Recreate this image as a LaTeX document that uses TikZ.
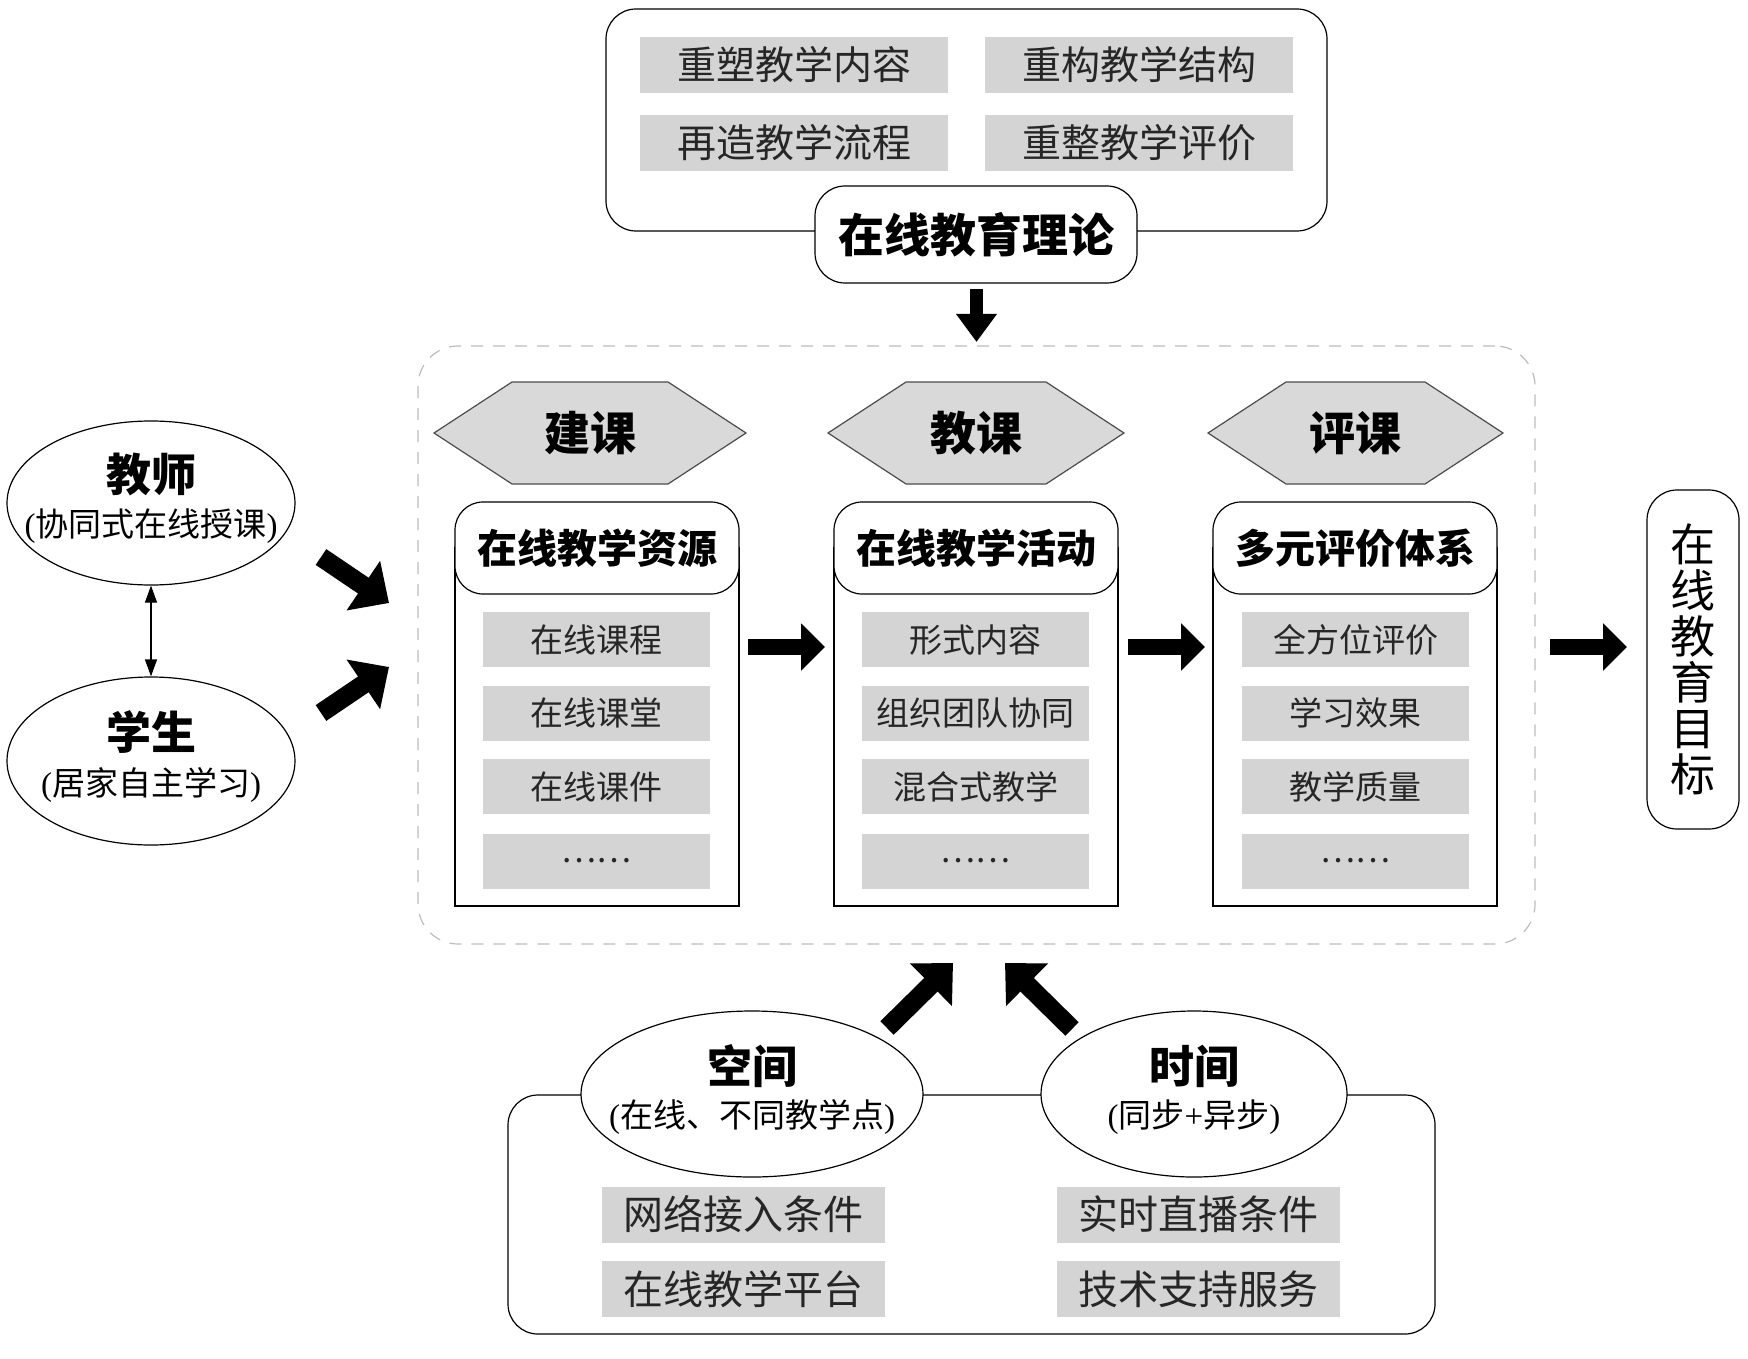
\documentclass[tikz,border=0pt]{standalone}
\usepackage{fontspec}
\setmainfont{Liberation Serif}
\newfontfamily\cjk{Noto Sans CJK SC}
\usetikzlibrary{arrows.meta,shapes.geometric}
\definecolor{boxgray}{HTML}{D4D4D4}
\definecolor{hexgray}{HTML}{D9D9D9}
\definecolor{dashgray}{HTML}{BDBDBD}
\begin{document}
\begin{tikzpicture}[x=0.5pt,y=-0.5pt,
  thin line/.style={line width=0.6pt, draw=black},
  graybox/.style={fill=boxgray, draw=none, inner sep=0pt, text=black!85},
  topgray/.style={graybox, minimum width=154pt, minimum height=28pt, font=\cjk\fontsize{19.5}{22}\selectfont},
  itemgray/.style={graybox, minimum width=113.5pt, minimum height=27.5pt, font=\cjk\fontsize{16.5}{19}\selectfont},
  botgray/.style={graybox, minimum width=141.5pt, minimum height=28pt, font=\cjk\fontsize{20}{23}\selectfont},
  hexa/.style={fill=hexgray, draw=black!70, line width=0.6pt},
  hextext/.style={font=\cjk\bfseries\fontsize{23}{26}\selectfont},
  header/.style={thin line, fill=white, rounded corners=14pt, minimum width=142pt, minimum height=46pt, inner sep=0pt, font=\cjk\bfseries\fontsize{20}{23}\selectfont},
  body/.style={thin line, fill=white, minimum width=142pt, minimum height=179pt, inner sep=0pt},
  oval/.style={thin line, ellipse, fill=white, inner sep=0pt},
  ovaltitle/.style={font=\cjk\bfseries\fontsize{22.5}{25}\selectfont},
  ovalsub/.style={font=\fontsize{16.5}{19}\selectfont},
  fatH/.style={line width=8pt, -{Triangle[length=12pt,width=23pt]}},
  fatV/.style={line width=6.5pt, -{Triangle[length=14pt,width=19.5pt]}},
  fatD/.style={line width=9.5pt, -{Triangle[length=15.5pt,width=29pt]}},
  both/.style={line width=0.6pt, {Triangle[length=8.5pt,width=6pt]}-{Triangle[length=8.5pt,width=6pt]}}
]
\useasboundingbox (0,0) rectangle (1748,1358);
\fill[white] (0,0) rectangle (1748,1358);

% ---------- top: theory ----------
\node[thin line, draw, rounded corners=15pt, minimum width=360.5pt, minimum height=111pt, inner sep=0pt] (topbox) at (966.5,120) {};
\node[topgray] (g1) at (794,65) {重塑教学内容};
\node[topgray] (g2) at (1139,65) {重构教学结构};
\node[topgray] (g3) at (794,143) {再造教学流程};
\node[topgray] (g4) at (1139,143) {重整教学评价};
\node[thin line, draw, fill=white, rounded corners=15pt, minimum width=161pt, minimum height=48.5pt, inner sep=0pt, font=\cjk\bfseries\fontsize{23}{26}\selectfont] (theory) at (976,234.5) {在线教育理论};
\coordinate (dA) at (976.5,289);
\coordinate (dB) at (976.5,342);
\draw[fatV] (dA) -- (dB);

% ---------- middle dashed frame ----------
\node[draw=dashgray, line width=0.6pt, dash pattern=on 6pt off 5pt, rounded corners=20pt, minimum width=558.5pt, minimum height=299pt, inner sep=0pt] (frame) at (976.5,645) {};

% hexagons
\draw[hexa] (434,433) -- (512,382) -- (668,382) -- (746,433) -- (668,484) -- (512,484) -- cycle;
\node[hextext] (hx1) at (590,433) {建课};
\draw[hexa] (828,433) -- (906,382) -- (1046,382) -- (1124,433) -- (1046,484) -- (906,484) -- cycle;
\node[hextext] (hx2) at (976,433) {教课};
\draw[hexa] (1208,433) -- (1286,382) -- (1425,382) -- (1503,433) -- (1425,484) -- (1286,484) -- cycle;
\node[hextext] (hx3) at (1355.5,433) {评课};

% column 1
\node[body] (b1) at (597,727) {};
\node[header] (h1) at (597,548) {在线教学资源};
\node[itemgray] (i11) at (596.5,639.5) {在线课程};
\node[itemgray] (i12) at (596.5,713) {在线课堂};
\node[itemgray] (i13) at (596.5,786.5) {在线课件};
\node[itemgray] (i14) at (596.5,861) {……};
% column 2
\node[body] (b2) at (976,727) {};
\node[header] (h2) at (976,548) {在线教学活动};
\node[itemgray] (i21) at (975.5,639.5) {形式内容};
\node[itemgray] (i22) at (975.5,713) {组织团队协同};
\node[itemgray] (i23) at (975.5,786.5) {混合式教学};
\node[itemgray] (i24) at (975.5,861) {……};
% column 3
\node[body] (b3) at (1355,727) {};
\node[header] (h3) at (1355,548) {多元评价体系};
\node[itemgray] (i31) at (1355.5,639.5) {全方位评价};
\node[itemgray] (i32) at (1355.5,713) {学习效果};
\node[itemgray] (i33) at (1355.5,786.5) {教学质量};
\node[itemgray] (i34) at (1355.5,861) {……};

\coordinate (r1a) at (748,647); \coordinate (r1b) at (825,647);
\coordinate (r2a) at (1128,647); \coordinate (r2b) at (1205,647);
\coordinate (r3a) at (1550,647); \coordinate (r3b) at (1627,647);
\draw[fatH] (r1a) -- (r1b);
\draw[fatH] (r2a) -- (r2b);
\draw[fatH] (r3a) -- (r3b);

% goal
\node[thin line, draw, rounded corners=15pt, minimum width=46pt, minimum height=169.5pt, inner sep=0pt, align=center, font=\cjk\fontsize{22.5}{23}\selectfont] (goal) at (1693,659.5) {在\\线\\教\\育\\目\\标};

% ---------- left: teacher / student ----------
\node[oval, minimum width=144pt, minimum height=82pt] (teacher) at (151,503) {};
\node[ovaltitle] (tT) at (151,474) {教师};
\node[ovalsub] (tS) at (151,526) {(\cjk 协同式在线授课\rmfamily)};
\node[oval, minimum width=144pt, minimum height=84pt] (student) at (151,761) {};
\node[ovaltitle] (sT) at (151,732) {学生};
\node[ovalsub] (sS) at (151,785) {(\cjk 居家自主学习\rmfamily)};
\draw[both] (teacher.south) -- (student.north);

\coordinate (lA1) at (321,557); \coordinate (lA2) at (389,603);
\coordinate (lB1) at (321,713); \coordinate (lB2) at (389,667);
\draw[fatD] (lA1) -- (lA2);
\draw[fatD] (lB1) -- (lB2);

% ---------- bottom: space / time ----------
\node[thin line, draw, rounded corners=15pt, minimum width=463.5pt, minimum height=119.5pt, inner sep=0pt] (botbox) at (971.5,1214.5) {};
\node[oval, minimum width=171pt, minimum height=83pt] (space) at (752,1094) {};
\node[ovaltitle] (spT) at (752,1066) {空间};
\node[ovalsub] (spS) at (752,1117) {(\cjk 在线、不同教学点\rmfamily)};
\node[oval, minimum width=153pt, minimum height=83pt] (time) at (1194,1094) {};
\node[ovaltitle] (tiT) at (1194,1066) {时间};
\node[ovalsub] (tiS) at (1194,1117) {(\cjk 同步\rmfamily+\cjk 异步\rmfamily)};
\node[botgray] (k1) at (743.5,1214.5) {网络接入条件};
\node[botgray] (k2) at (743.5,1289) {在线教学平台};
\node[botgray] (k3) at (1198.5,1214.5) {实时直播条件};
\node[botgray] (k4) at (1198.5,1289) {技术支持服务};

\coordinate (uA1) at (887,1028); \coordinate (uA2) at (953,963);
\coordinate (uB1) at (1072,1029); \coordinate (uB2) at (1005,963);
\draw[fatD] (uA1) -- (uA2);
\draw[fatD] (uB1) -- (uB2);
\end{tikzpicture}
\end{document}
